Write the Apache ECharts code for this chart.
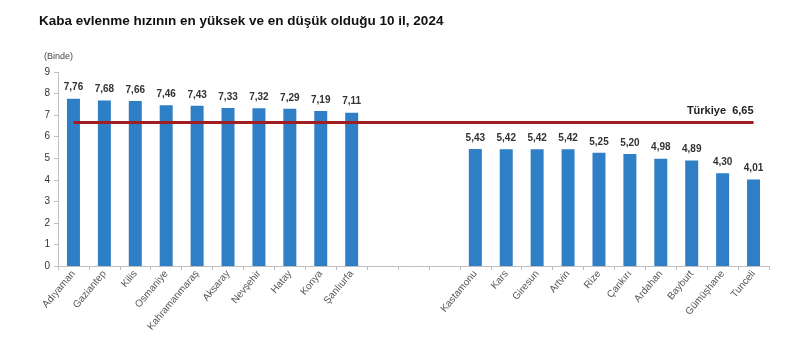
<!DOCTYPE html>
<html><head><meta charset="utf-8">
<script src="https://cdn.jsdelivr.net/npm/echarts@6/dist/echarts.min.js"></script>
<style>html,body{margin:0;padding:0;background:#fff}#c{width:800px;height:360px}</style>
</head><body><div id="c"></div>
<script>
const categories = ['Adıyaman','Gaziantep','Kilis','Osmaniye','Kahramanmaraş','Aksaray','Nevşehir','Hatay','Konya','Şanlıurfa','','','','Kastamonu','Kars','Giresun','Artvin','Rize','Çankırı','Ardahan','Bayburt','Gümüşhane','Tunceli'];
const values = [7.76,7.68,7.66,7.46,7.43,7.33,7.32,7.29,7.19,7.11,null,null,null,5.43,5.42,5.42,5.42,5.25,5.20,4.98,4.89,4.30,4.01];
const turkiye = 6.65;
const yTicks = [0,1,2,3,4,5,6,7,8,9];

const chart = echarts.init(document.getElementById('c'));
const fmt = v => v.toFixed(2).replace('.', ',');
chart.setOption({
  animation: false,
  textStyle: {fontFamily: 'Liberation Sans, Arial, sans-serif'},
  title: {
    text: 'Kaba evlenme hızının en yüksek ve en düşük olduğu 10 il, 2024',
    left: 34, top: 9,
    textStyle: {fontSize: 13.5, fontWeight: 'bold', color: '#111', fontFamily: 'Liberation Sans, Arial, sans-serif'}
  },
  graphic: [{
    type: 'text', left: 44, top: 52,
    style: {text: '(Binde)', fontSize: 9, fill: '#444', fontFamily: 'Liberation Sans, Arial, sans-serif'}
  }],
  grid: {left: 58, right: 31, top: 72, bottom: 94},
  xAxis: {
    type: 'category', data: categories,
    axisLine: {lineStyle: {color: '#bfbfbf'}},
    axisTick: {show: true, length: 4, lineStyle: {color: '#bfbfbf'}},
    axisLabel: {rotate: 50, interval: 0, fontSize: 10, color: '#555', margin: 6}
  },
  yAxis: {
    type: 'value', min: yTicks[0], max: yTicks[yTicks.length-1], interval: 1,
    axisLine: {show: true, lineStyle: {color: '#bfbfbf'}},
    axisTick: {show: true, length: 4, lineStyle: {color: '#bfbfbf'}},
    splitLine: {show: false},
    axisLabel: {fontSize: 10, color: '#333', margin: 8}
  },
  series: [{
    type: 'bar', data: values, barWidth: '42%',
    itemStyle: {color: '#2E7FC6'},
    label: {show: true, position: 'top', distance: 6, fontSize: 10, fontWeight: 'bold', color: '#333',
      formatter: p => fmt(p.value)},
    markLine: {
      symbol: 'none', silent: true,
      lineStyle: {color: '#A01E22', width: 3, type: 'solid'},
      label: {show: true, position: 'insideEndTop', formatter: 'Türkiye  ' + fmt(turkiye),
        fontSize: 11, fontWeight: 'bold', color: '#222', distance: [0, 6]},
      data: [[{coord: [0, turkiye]}, {coord: [categories.length - 1, turkiye]}]]
    }
  }]
});
</script></body></html>
